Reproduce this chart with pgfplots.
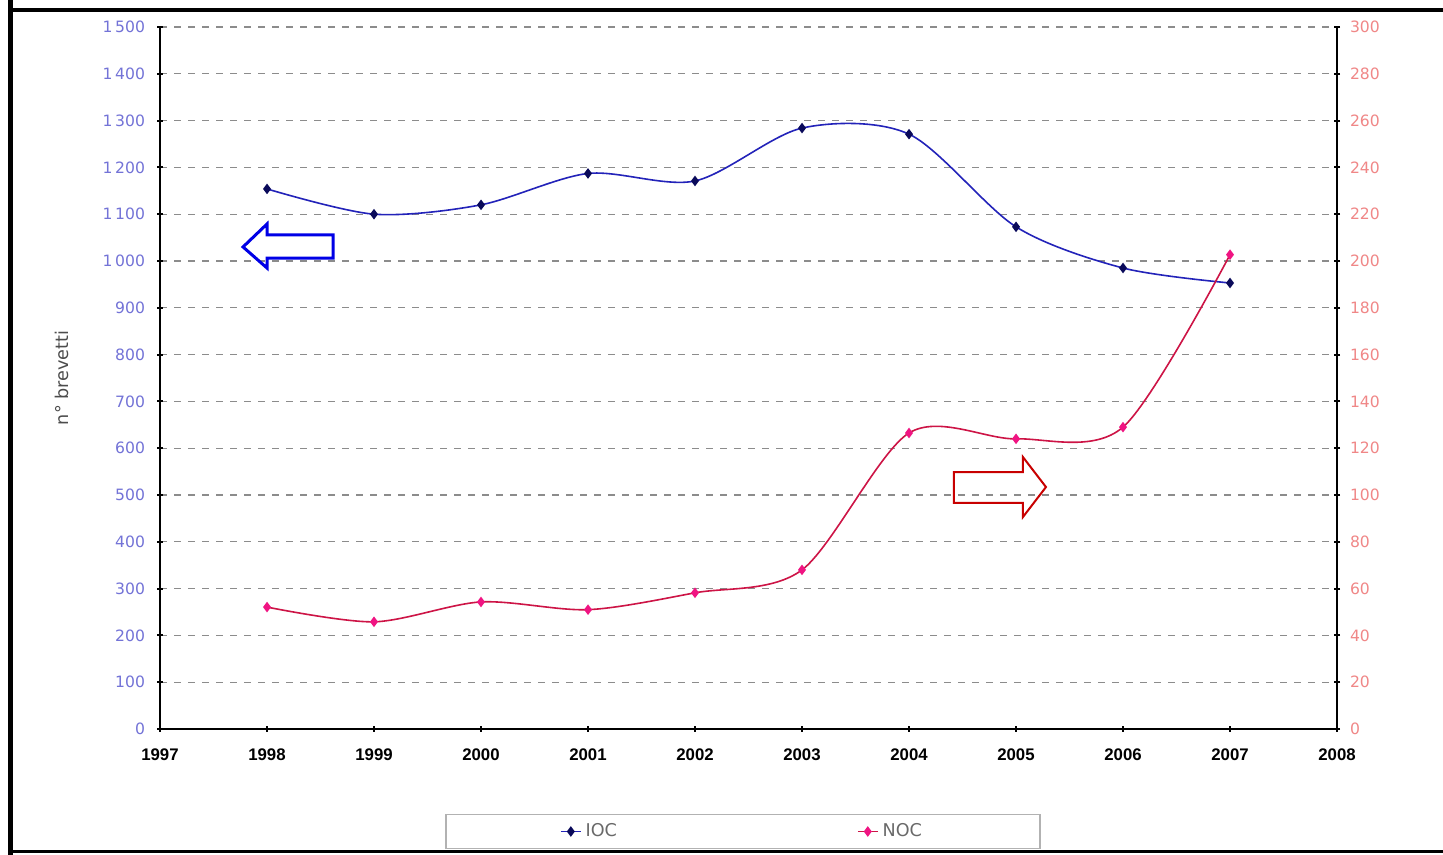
\documentclass[border=0pt]{standalone}
\usepackage{pgfplots}
\pgfplotsset{compat=1.18}
\usepackage{fontspec}
\setmainfont{DejaVu Sans}
\newfontfamily\xlabfont{Liberation Sans}
\definecolor{ioc}{RGB}{35,35,185}
\definecolor{iocmark}{RGB}{10,10,90}
\definecolor{noc}{RGB}{205,20,70}
\definecolor{nocmark}{RGB}{240,20,130}
\definecolor{lefttick}{RGB}{115,115,215}
\definecolor{righttick}{RGB}{240,135,135}
\definecolor{gridgray}{RGB}{140,140,140}
\definecolor{leggray}{RGB}{105,105,105}
\definecolor{arrblue}{RGB}{0,0,230}
\definecolor{arrred}{RGB}{200,0,0}
\pgfplotsset{
  common/.style={
    at={(80pt,63pt)}, anchor=south west,
    scale only axis, width=588.5pt, height=351pt,
    xmin=1997, xmax=2008,
    tick style={black, line width=1pt},
    tick align=outside, major tick length=3pt,
    /pgf/number format/assume math mode=true,
    /pgf/number format/1000 sep={\,},
    clip=false,
  },
  legend image code/.code={
    \draw[mark repeat=2, mark phase=2, #1] plot coordinates {(0pt,0pt) (5pt,0pt) (10pt,0pt)};
  },
}
\begin{document}
\begin{tikzpicture}
\useasboundingbox (0,0) rectangle (721.5pt,427.5pt);
\fill[white] (0,0) rectangle (721.5pt,427.5pt);
\draw[line width=2.5pt] (5.25pt,0) -- (5.25pt,427.5pt);
\draw[line width=2pt] (4pt,422.5pt) -- (721.5pt,422.5pt);
\draw[line width=1.5pt] (4pt,1.5pt) -- (721.5pt,1.5pt);
\begin{axis}[
  common,
  ymin=0, ymax=1500,
  xtick={1997,1998,...,2008}, ytick={0,100,...,1500},
  axis x line=bottom, axis y line=left,
  axis line style={-, line width=1pt, black},
  ymajorgrids,
  major grid style={gridgray, dash pattern=on 3.5pt off 3.5pt, line width=0.6pt},
  yticklabel style={font=\fontsize{7.8}{9}\selectfont, text=lefttick, xshift=-2.5pt},
  xticklabel style={font=\xlabfont\bfseries\fontsize{8.4}{10}\selectfont, text=black, /pgf/number format/1000 sep={}, yshift=-5pt},
  ylabel={n° brevetti},
  ylabel style={at={(axis description cs:-0.0833,0.5)}, anchor=center, font=\fontsize{8.8}{10}\selectfont, text=black!70},
]
\addplot[ioc, line width=0.8pt, smooth, mark=diamond*, mark size=2pt, mark options={iocmark, solid, fill=iocmark}] coordinates {
  (1998,1154) (1999,1100) (2000,1120) (2001,1187) (2002,1171)
  (2003,1284) (2004,1271) (2005,1073) (2006,985) (2007,953)
};
\draw[arrblue, line width=1.5pt, line join=miter] (axis cs:1997.776,1030) -- (axis cs:1998.0,1079) -- (axis cs:1998.0,1056) -- (axis cs:1998.617,1056) -- (axis cs:1998.617,1006) -- (axis cs:1998.0,1006) -- (axis cs:1998.0,985) -- cycle;
\draw[arrred, line width=1pt, line join=miter] (axis cs:2004.42,549) -- (axis cs:2005.065,549) -- (axis cs:2005.065,581) -- (axis cs:2005.28,517) -- (axis cs:2005.065,453) -- (axis cs:2005.065,483) -- (axis cs:2004.42,483) -- cycle;
\end{axis}
\begin{axis}[
  common,
  ymin=0, ymax=300,
  ytick={0,20,...,300},
  axis x line=none, axis y line=right,
  axis line style={-, line width=1pt, black},
  yticklabel style={font=\fontsize{7.8}{9}\selectfont, text=righttick, xshift=1.5pt},
  legend style={at={(0.4953,-0.146)}, anchor=center, draw=gray!60, line width=0.6pt,
    font=\fontsize{8.8}{10}\selectfont, text=leggray, inner xsep=57pt, inner ysep=2.5pt,
    /tikz/every even column/.append style={column sep=118pt}},
  legend columns=2,
]
\addlegendimage{ioc, line width=0.8pt, mark=diamond*, mark size=2pt, mark options={iocmark, solid, fill=iocmark}}
\addlegendentry{IOC}
\addplot[noc, line width=0.8pt, smooth, mark=diamond*, mark size=2pt, mark options={nocmark, solid, fill=nocmark}] coordinates {
  (1998,52.1) (1999,45.8) (2000,54.3) (2001,51.0) (2002,58.2)
  (2003,68.0) (2004,126.5) (2005,124.0) (2006,129.0) (2007,202.7)
};
\addlegendentry{NOC}
\end{axis}
\end{tikzpicture}
\end{document}
